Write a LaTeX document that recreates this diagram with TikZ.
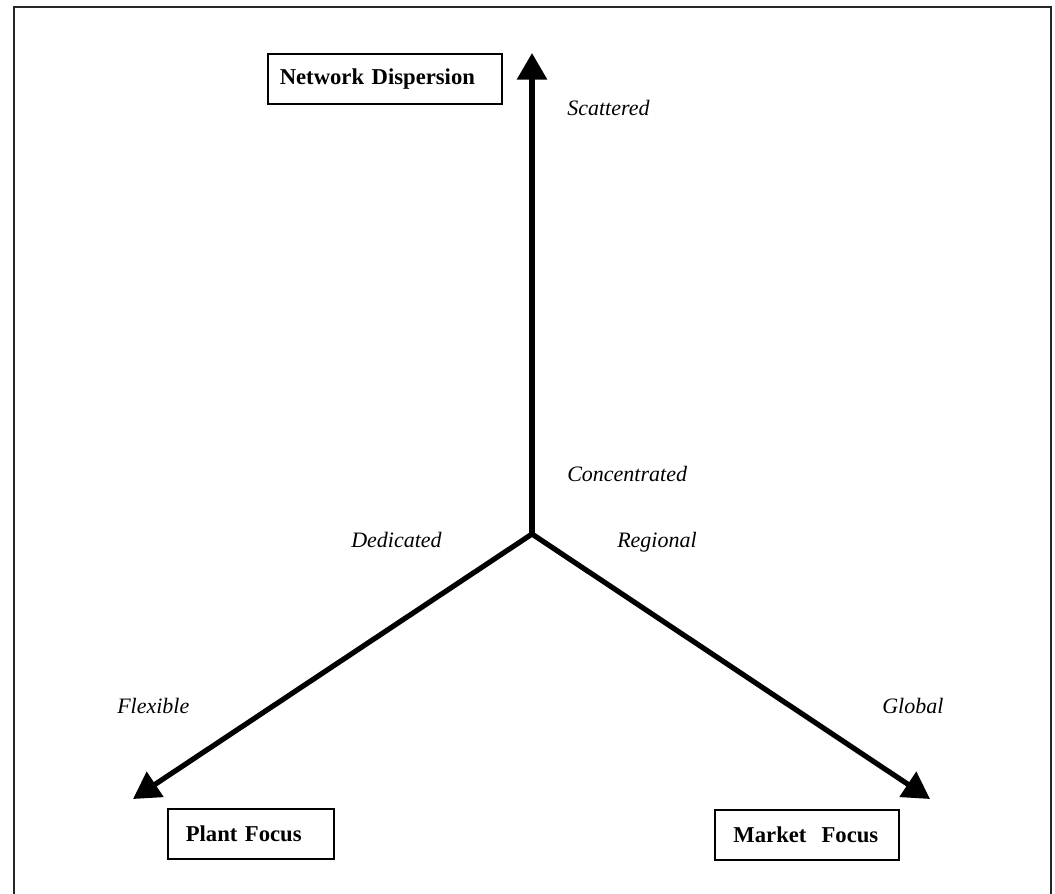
\documentclass[tikz,border=0pt]{standalone}
\usepackage{fontspec}
\setmainfont{Liberation Serif}
\usetikzlibrary{arrows.meta}
\tikzset{
  axis/.style={line width=3.9pt, -{Triangle[length=20pt,width=22pt]}},
  titlebox/.style={draw, line width=1.2pt, font=\fontsize{17}{20}\selectfont\bfseries, align=left, anchor=north west, inner ysep=0pt, minimum height=37.5pt},
  polelabel/.style={font=\fontsize{16.5}{19}\selectfont\itshape, anchor=base west, inner sep=0pt},
  frame/.style={line width=1.3pt, black!85}
}
\begin{document}
\begin{tikzpicture}[x=0.75pt, y=-0.75pt]
\useasboundingbox (0,0) rectangle (1055,893);
\draw[frame] (14,900) -- (14,7) -- (1051,7) -- (1051,900);
% axes
\coordinate (C) at (532,534);
\coordinate (top) at (532,53);
\coordinate (left) at (133,799);
\coordinate (right) at (930,799);
\draw[axis] (C) -- (top);
\draw[axis] (C) -- (left);
\draw[axis] (C) -- (right);
% boxes
\node[titlebox, inner xsep=9pt, text width={(501-267)*0.75pt-18pt}] (nd) at (267,53) {Network Dispersion};
\node[titlebox, inner xsep=13.5pt, text width={(333-167)*0.75pt-27pt}] (pf) at (167,808) {Plant Focus};
\node[titlebox, inner xsep=14pt, text width={(898-714)*0.75pt-28pt}] (mf) at (714,809) {Market\ \ Focus};
% labels
\node[polelabel] (sc) at (567,115) {Scattered};
\node[polelabel] (co) at (567,481) {Concentrated};
\node[polelabel] (re) at (617,547) {Regional};
\node[polelabel] (de) at (351,547) {Dedicated};
\node[polelabel] (fl) at (117,713) {Flexible};
\node[polelabel] (gl) at (882,713) {Global};
\end{tikzpicture}
\end{document}
